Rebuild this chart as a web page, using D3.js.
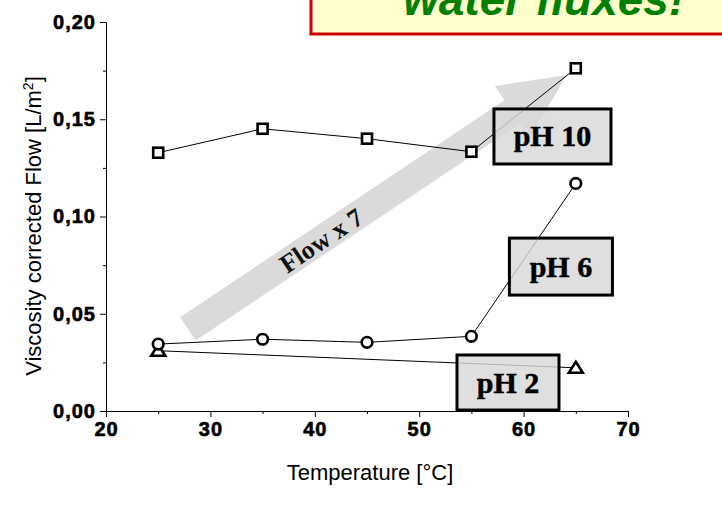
<!DOCTYPE html>
<html>
<head>
<meta charset="utf-8">
<script src="https://cdn.jsdelivr.net/npm/d3@7"></script>
<style>
  body { margin: 0; background: #fff; }
  svg { display: block; }
</style>
</head>
<body>
<div id="chart"></div>
<script>
// Data
var temps = [25, 35, 45, 55, 65];
var flowPH10 = [0.1328, 0.1451, 0.1400, 0.1333, 0.1762];
var flowPH6 = [0.0344, 0.0369, 0.0353, 0.0384, 0.1170];
var tempsPH2 = [25, 65];
var flowPH2 = [0.0310, 0.0222];
var xTicks = [20, 30, 40, 50, 60, 70];
var xMinor = [25, 35, 45, 55, 65];
var yTicks = [0, 0.05, 0.10, 0.15, 0.20];
var yMinor = [0.025, 0.075, 0.125, 0.175];
var boxLabels = ["pH 10", "pH 6", "pH 2"];
// label boxes in data units: [x0, x1, yTop, yBottom]
var boxPH10 = [57.16, 68.37, 0.1553, 0.1270];
var boxPH6 = [58.64, 68.51, 0.0889, 0.0596];
var boxPH2 = [53.62, 63.39, 0.0288, 0.0005];
// arrow from tail to tip, data units
var arrowTail = [27.85, 0.0422];
var arrowTip = [64.16, 0.1727];

var width = 722, height = 531;

var x = d3.scaleLinear().domain([20, 70]).range([106, 628]);
var y = d3.scaleLinear().domain([0, 0.20]).range([411, 22]);

var svg = d3.select("#chart").append("svg")
    .attr("width", width)
    .attr("height", height);

// Title box (cut off at the top)
svg.append("rect")
    .attr("x", 311).attr("y", -30)
    .attr("width", 440).attr("height", 64)
    .attr("fill", "#ffffcc")
    .attr("stroke", "#cc0000")
    .attr("stroke-width", 3);

svg.append("text")
    .attr("x", 403).attr("y", 15)
    .attr("font-family", "Liberation Sans, Arial, sans-serif")
    .attr("font-weight", "bold")
    .attr("font-style", "italic")
    .attr("font-size", 46)
    .attr("fill", "#008000")
    .text("water fluxes!");

// Big arrow
var ax0 = x(arrowTail[0]), ay0 = y(arrowTail[1]),
    ax1 = x(arrowTip[0]), ay1 = y(arrowTip[1]);
var len = Math.hypot(ax1 - ax0, ay1 - ay0);
var ang = Math.atan2(ay1 - ay0, ax1 - ax0) * 180 / Math.PI;
var shaft = 14, head = 31, headLen = 66;

var arrow = svg.append("g")
    .attr("transform", "translate(" + ax0 + "," + ay0 + ") rotate(" + ang + ")");

arrow.append("path")
    .attr("d", d3.line()([
      [0, -shaft], [len - headLen, -shaft], [len - headLen, -head], [len, 0],
      [len - headLen, head], [len - headLen, shaft], [0, shaft]
    ]) + "Z")
    .attr("fill", "#d6d6d6")
    .attr("opacity", 0.9);

arrow.append("text")
    .attr("x", 160).attr("y", 1)
    .attr("text-anchor", "middle")
    .attr("dominant-baseline", "central")
    .attr("font-family", "Liberation Serif, Times New Roman, serif")
    .attr("font-weight", "bold")
    .attr("font-size", 26)
    .attr("fill", "#111")
    .text("Flow x 7");

// Axes
svg.append("g")
    .attr("transform", "translate(0," + y(0) + ")")
    .call(d3.axisBottom(x).tickValues(xTicks).tickSize(6).tickSizeOuter(0).tickPadding(5)
      .tickFormat(d3.format("d")));

svg.append("g")
    .attr("transform", "translate(0," + y(0) + ")")
    .call(d3.axisBottom(x).tickValues(xMinor).tickSize(3).tickSizeOuter(0).tickFormat(""))
    .select(".domain").remove();

svg.append("g")
    .attr("transform", "translate(" + x(20) + ",0)")
    .call(d3.axisLeft(y).tickValues(yTicks).tickSize(6).tickSizeOuter(0).tickPadding(4)
      .tickFormat(function(d) { return d3.format(".2f")(d).replace(".", ","); }));

svg.append("g")
    .attr("transform", "translate(" + x(20) + ",0)")
    .call(d3.axisLeft(y).tickValues(yMinor).tickSize(3).tickSizeOuter(0).tickFormat(""))
    .select(".domain").remove();

svg.selectAll(".tick text")
    .attr("font-family", "Liberation Sans, Arial, sans-serif")
    .attr("font-weight", "bold")
    .attr("font-size", 20)
    .attr("letter-spacing", 1)
    .attr("fill", "#000")
    .attr("stroke", "#000")
    .attr("stroke-width", 0.6);

svg.selectAll(".domain, .tick line").attr("stroke", "#000");

// Axis titles
svg.append("text")
    .attr("x", 370).attr("y", 480)
    .attr("text-anchor", "middle")
    .attr("font-family", "Liberation Sans, Arial, sans-serif")
    .attr("font-size", 22)
    .text("Temperature [°C]");

var yTitle = svg.append("text")
    .attr("transform", "translate(41,226) rotate(-90)")
    .attr("text-anchor", "middle")
    .attr("font-family", "Liberation Sans, Arial, sans-serif")
    .attr("font-size", 22);
yTitle.append("tspan").text("Viscosity corrected Flow [L/m");
yTitle.append("tspan").attr("dy", -8).attr("font-size", 14).text("2");
yTitle.append("tspan").attr("dy", 8).text("]");

// Series lines
var line = d3.line()
    .x(function(d) { return x(d[0]); })
    .y(function(d) { return y(d[1]); });

var s10 = d3.zip(temps, flowPH10),
    s6 = d3.zip(temps, flowPH6),
    s2 = d3.zip(tempsPH2, flowPH2);

[s10, s6, s2].forEach(function(s) {
  svg.append("path")
      .datum(s)
      .attr("d", line)
      .attr("fill", "none")
      .attr("stroke", "#000")
      .attr("stroke-width", 1);
});

// Markers
svg.selectAll(".sq")
    .data(s10)
  .enter().append("rect")
    .attr("class", "sq")
    .attr("x", function(d) { return x(d[0]) - 5; })
    .attr("y", function(d) { return y(d[1]) - 5; })
    .attr("width", 10).attr("height", 10)
    .attr("fill", "#fff")
    .attr("stroke", "#000")
    .attr("stroke-width", 2.6);

svg.selectAll(".tri")
    .data(s2)
  .enter().append("path")
    .attr("class", "tri")
    .attr("d", "M0,-6L7,5L-7,5Z")
    .attr("transform", function(d) { return "translate(" + x(d[0]) + "," + y(d[1]) + ")"; })
    .attr("fill", "#fff")
    .attr("stroke", "#000")
    .attr("stroke-width", 2.6)
    .attr("stroke-linejoin", "miter");

svg.selectAll(".circ")
    .data(s6)
  .enter().append("circle")
    .attr("class", "circ")
    .attr("cx", function(d) { return x(d[0]); })
    .attr("cy", function(d) { return y(d[1]); })
    .attr("r", 5.3)
    .attr("fill", "#fff")
    .attr("stroke", "#000")
    .attr("stroke-width", 2.6);

// Label boxes
[boxPH10, boxPH6, boxPH2].forEach(function(b, i) {
  var bx = x(b[0]), by = y(b[2]), bw = x(b[1]) - x(b[0]), bh = y(b[3]) - y(b[2]);
  svg.append("rect")
      .attr("x", bx).attr("y", by)
      .attr("width", bw).attr("height", bh)
      .attr("fill", "#d8d8d8")
      .attr("fill-opacity", 0.82)
      .attr("stroke", "#000")
      .attr("stroke-width", 3);
  svg.append("text")
      .attr("x", bx + bw / 2).attr("y", by + bh / 2 + 10)
      .attr("text-anchor", "middle")
      .attr("font-family", "Liberation Serif, Times New Roman, serif")
      .attr("font-weight", "bold")
      .attr("font-size", 30)
      .attr("fill", "#000")
      .attr("stroke", "#000")
      .attr("stroke-width", 0.5)
      .text(boxLabels[i]);
});
</script>
</body>
</html>
